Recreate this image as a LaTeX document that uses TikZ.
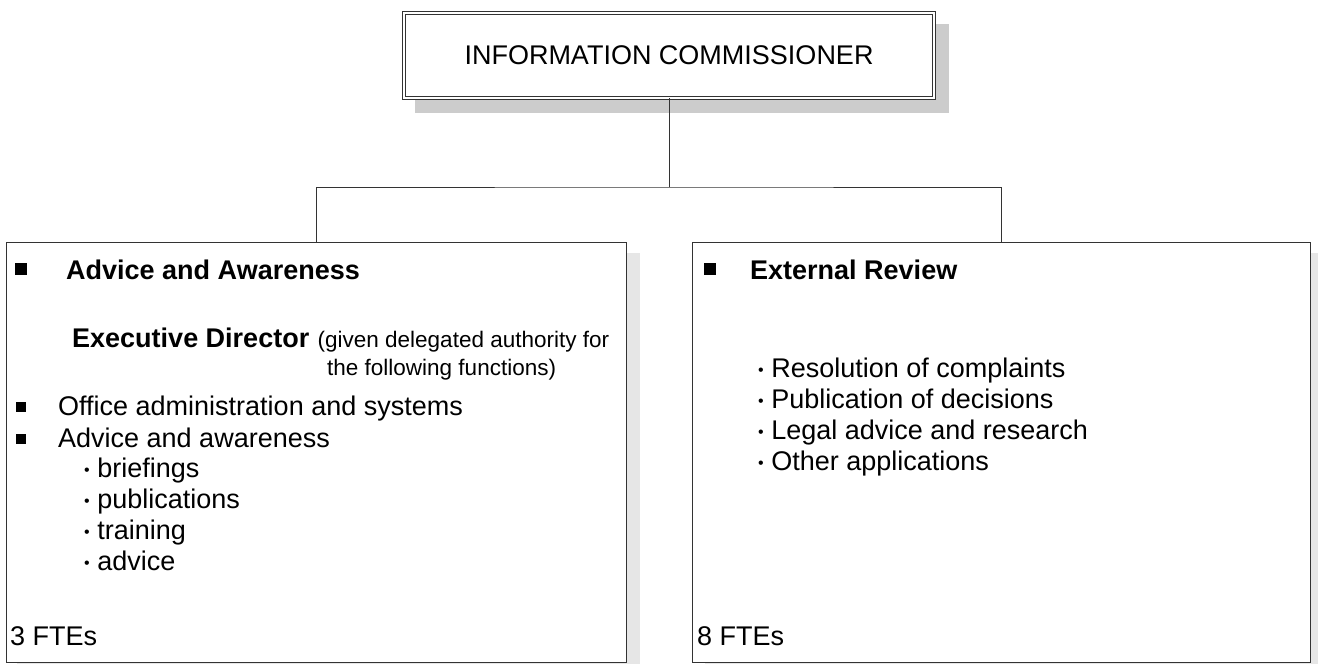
\documentclass[tikz,border=0pt]{standalone}
\usepackage{fontspec}
\setmainfont{Liberation Sans}
\definecolor{shadowA}{HTML}{CCCCCC}
\definecolor{shadowB}{HTML}{E6E6E6}
\definecolor{edge}{HTML}{333333}
\tikzset{
  unitbox/.style={draw=edge, line width=0.9pt, fill=white, inner sep=0pt},
  txt/.style={anchor=base west, inner sep=0pt, font=\fontsize{27}{31}\selectfont},
  head/.style={anchor=base west, inner sep=0pt, font=\fontsize{27}{31}\selectfont\bfseries},
  small/.style={anchor=base west, inner sep=0pt, font=\fontsize{22.5}{26}\selectfont},
  conn/.style={draw=edge, line width=0.9pt},
}
\newcommand{\bul}{\raisebox{1.5pt}{\fontsize{16}{16}\selectfont•}}
\begin{document}
\begin{tikzpicture}[x=1pt,y=-1pt]
\useasboundingbox (0,0) rectangle (1318,664);
% shadows
\fill[shadowA] (415,24) rectangle (949,113);
\fill[shadowB] (17,253) rectangle (640,670);
\fill[shadowB] (705,253) rectangle (1322,670);
% top box
\node[draw=edge, line width=0.8pt, double=white, double distance=1.6pt, fill=white,
      minimum width=530pt, minimum height=85pt, inner sep=0pt,
      font=\fontsize{27}{31}\selectfont] (top) at (669,55.5) {INFORMATION COMMISSIONER};
% unit boxes
\node[unitbox, minimum width=620pt, minimum height=420pt] (left) at (316,452) {};
\node[unitbox, minimum width=618pt, minimum height=420pt] (right) at (1001,452) {};
% connectors
\coordinate (j) at (669,187);
\draw[conn] (top.south) -- (j);
\draw[conn] (left.north) |- (j) -| (right.north);
% left box content
\fill (15,263) rectangle (27,275);
\node[head] (aa) at (66,279) {Advice and Awareness};
\node[head] (ed) at (72,347) {Executive Director};
\node[small] (gd) at ([xshift=8pt]ed.base east) {(given delegated authority for};
\node[small] (tf) at (327,375) {the following functions)};
\fill (16,402) rectangle (26,412);
\node[txt] (oa) at (58,415) {Office administration and systems};
\fill (16,434) rectangle (26,444);
\node[txt] (aw) at (58,447) {Advice and awareness};
\node[txt] (b1) at (84,477) {\bul{} briefings};
\node[txt] (b2) at (84,508) {\bul{} publications};
\node[txt] (b3) at (84,539) {\bul{} training};
\node[txt] (b4) at (84,570) {\bul{} advice};
\node[txt] (fl) at (10,645) {3 FTEs};
% right box content
\fill (704,263) rectangle (716,275);
\node[head] (er) at (750,279) {External Review};
\node[txt] (r1) at (758,377) {\bul{} Resolution of complaints};
\node[txt] (r2) at (758,408) {\bul{} Publication of decisions};
\node[txt] (r3) at (758,439) {\bul{} Legal advice and research};
\node[txt] (r4) at (758,470) {\bul{} Other applications};
\node[txt] (fr) at (697,645) {8 FTEs};
\end{tikzpicture}
\end{document}
